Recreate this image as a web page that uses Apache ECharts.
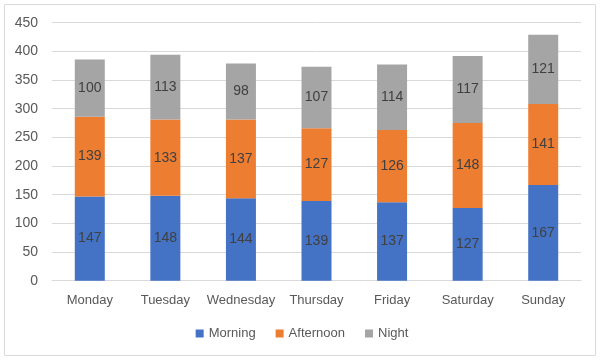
<!DOCTYPE html>
<html>
<head>
<meta charset="utf-8">
<script src="https://cdn.jsdelivr.net/npm/echarts@6/dist/echarts.min.js"></script>
<style>
html,body{margin:0;padding:0;background:#fff;}
#c{width:604px;height:361px;}
</style>
</head>
<body>
<div id="c"></div>
<script>
const categories = ['Monday','Tuesday','Wednesday','Thursday','Friday','Saturday','Sunday'];
const morning = [147,148,144,139,137,127,167];
const afternoon = [139,133,137,127,126,148,141];
const night = [100,113,98,107,114,117,121];
const seriesNames = ['Morning','Afternoon','Night'];
const yTicks = {min:0, max:450, interval:50};

const colors = ['#4472C4','#ED7D31','#A5A5A5'];
const FONT = '"Liberation Sans", Arial, sans-serif';
const chart = echarts.init(document.getElementById('c'), null, {renderer:'canvas'});
const lbl = {show:true, position:'inside', color:'#404040', fontSize:14, fontFamily:FONT};
const mk = (name, data, i) => ({
  name, type:'bar', stack:'total', data, barWidth:30,
  itemStyle:{color:colors[i]}, label:lbl
});
chart.setOption({
  animation:false,
  graphic:[{type:'rect', shape:{x:4.5,y:4.5,width:591,height:351}, style:{fill:'none', stroke:'#d9d9d9', lineWidth:1}, silent:true}],
  grid:{left:52, right:23, top:22.7, bottom:80.3},
  legend:{
    data:seriesNames, bottom:16, left:'center', itemWidth:8, itemHeight:8, itemGap:20,
    icon:'rect',
    textStyle:{color:'#595959', fontSize:13, fontFamily:FONT}
  },
  xAxis:{
    type:'category', data:categories,
    axisLine:{lineStyle:{color:'#d9d9d9'}}, axisTick:{show:false},
    axisLabel:{interval:0, color:'#595959', fontSize:13, margin:13, fontFamily:FONT}
  },
  yAxis:{
    type:'value', min:yTicks.min, max:yTicks.max, interval:yTicks.interval,
    axisLine:{show:false}, axisTick:{show:false},
    splitLine:{lineStyle:{color:'#d9d9d9'}},
    axisLabel:{color:'#595959', fontSize:14, margin:14, fontFamily:FONT}
  },
  series:[mk(seriesNames[0], morning, 0), mk(seriesNames[1], afternoon, 1), mk(seriesNames[2], night, 2)]
});
</script>
</body>
</html>
